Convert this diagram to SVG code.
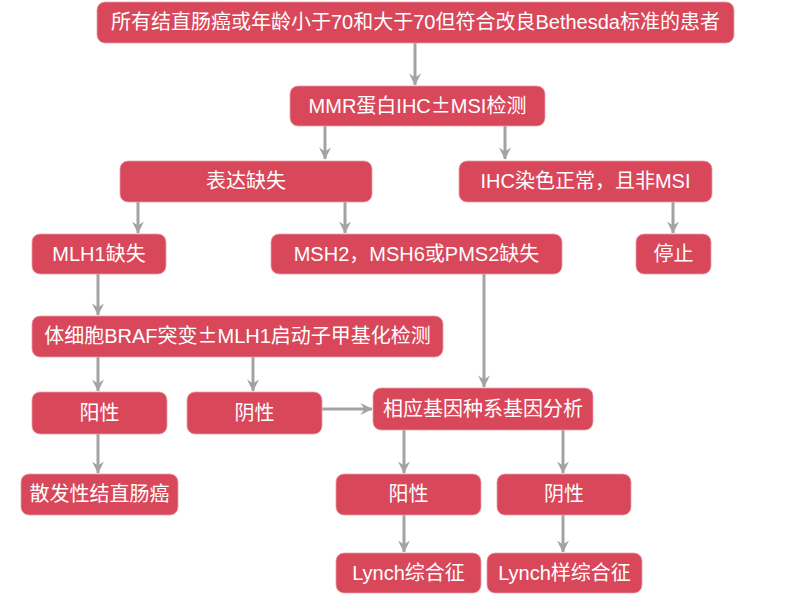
<svg xmlns="http://www.w3.org/2000/svg" width="800" height="595" viewBox="0 0 800 595">
<style>
.n rect{fill:#d9475a;stroke:#e8a0aa;stroke-width:0.8}
.n text{fill:#ffffff;font-family:"Liberation Sans","Noto Sans CJK SC",sans-serif;font-size:20px;text-anchor:middle}
.n .cjk{font-family:"Noto Sans CJK SC",sans-serif}
.c line{stroke:#a3a3a3;stroke-width:3;fill:none}
</style>
<defs>
<marker id="arr" viewBox="0 0 14 14" refX="12.5" refY="7" markerWidth="14" markerHeight="14" markerUnits="userSpaceOnUse" orient="auto">
<path d="M1,1 L13,7 L1,13 L5,7 Z" fill="#a3a3a3"/>
</marker>
</defs>
<rect width="800" height="595" fill="#ffffff"/>
<g class="c">
<line x1="415" y1="43" x2="415" y2="85" marker-end="url(#arr)"/>
<line x1="325" y1="126" x2="325" y2="159" marker-end="url(#arr)"/>
<line x1="505" y1="126" x2="505" y2="159" marker-end="url(#arr)"/>
<line x1="138" y1="202" x2="138" y2="233" marker-end="url(#arr)"/>
<line x1="345" y1="202" x2="345" y2="233" marker-end="url(#arr)"/>
<line x1="673" y1="202" x2="673" y2="233" marker-end="url(#arr)"/>
<line x1="98" y1="274" x2="98" y2="315" marker-end="url(#arr)"/>
<line x1="484" y1="274" x2="484" y2="387" marker-end="url(#arr)"/>
<line x1="98" y1="357" x2="98" y2="391" marker-end="url(#arr)"/>
<line x1="253" y1="357" x2="253" y2="391" marker-end="url(#arr)"/>
<line x1="322" y1="409" x2="372" y2="409" marker-end="url(#arr)"/>
<line x1="98" y1="434" x2="98" y2="473" marker-end="url(#arr)"/>
<line x1="404" y1="430" x2="404" y2="473" marker-end="url(#arr)"/>
<line x1="563" y1="430" x2="563" y2="473" marker-end="url(#arr)"/>
<line x1="404" y1="515" x2="404" y2="552" marker-end="url(#arr)"/>
<line x1="563" y1="515" x2="563" y2="552" marker-end="url(#arr)"/>
</g>
<g id="n1" class="n"><rect x="97" y="2" width="637" height="41" rx="8"/><text x="415.5" y="29">所有结直肠癌或年龄小于70和大于70但符合改良Bethesda标准的患者</text></g>
<g id="n2" class="n"><rect x="290" y="86" width="255" height="40" rx="8"/><text x="417.5" y="113">MMR蛋白IHC<tspan class="cjk">±</tspan>MSI检测</text></g>
<g id="n3" class="n"><rect x="120" y="161" width="252" height="41" rx="8"/><text x="246" y="188">表达缺失</text></g>
<g id="n4" class="n"><rect x="459" y="161" width="253" height="41" rx="8"/><text x="585.5" y="188">IHC染色正常，且非MSI</text></g>
<g id="n5" class="n"><rect x="32" y="234" width="134" height="40" rx="8"/><text x="99" y="261">MLH1缺失</text></g>
<g id="n6" class="n"><rect x="271" y="234" width="291" height="40" rx="8"/><text x="416.5" y="261">MSH2，MSH6或PMS2缺失</text></g>
<g id="n7" class="n"><rect x="636" y="234" width="75" height="40" rx="8"/><text x="673.5" y="261">停止</text></g>
<g id="n8" class="n"><rect x="32" y="316" width="411" height="41" rx="8"/><text x="237.5" y="343">体细胞BRAF突变<tspan class="cjk">±</tspan>MLH1启动子甲基化检测</text></g>
<g id="n9" class="n"><rect x="32" y="392" width="135" height="42" rx="8"/><text x="99.5" y="420">阳性</text></g>
<g id="n10" class="n"><rect x="187" y="392" width="135" height="42" rx="8"/><text x="254.5" y="420">阴性</text></g>
<g id="n11" class="n"><rect x="373" y="388" width="220" height="42" rx="8"/><text x="483" y="416">相应基因种系基因分析</text></g>
<g id="n12" class="n"><rect x="21" y="474" width="157" height="41" rx="8"/><text x="99.5" y="501">散发性结直肠癌</text></g>
<g id="n13" class="n"><rect x="336" y="474" width="145" height="41" rx="8"/><text x="408.5" y="501">阳性</text></g>
<g id="n14" class="n"><rect x="497" y="474" width="134" height="41" rx="8"/><text x="564" y="501">阴性</text></g>
<g id="n15" class="n"><rect x="336" y="553" width="145" height="40" rx="8"/><text x="408.5" y="580">Lynch综合征</text></g>
<g id="n16" class="n"><rect x="487" y="553" width="155" height="40" rx="8"/><text x="564.5" y="580">Lynch样综合征</text></g>
</svg>
